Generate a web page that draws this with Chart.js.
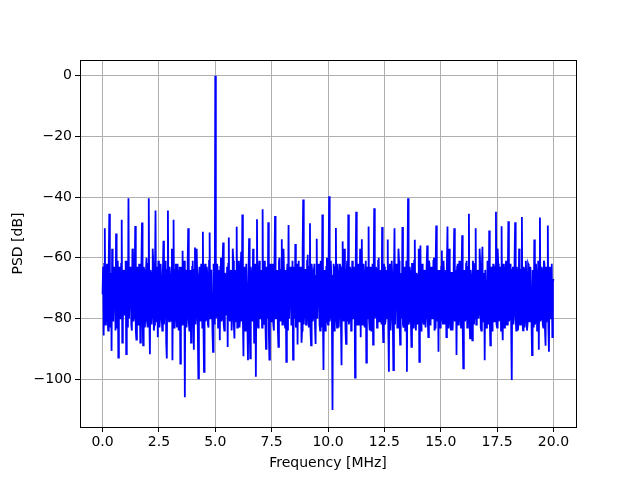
<!DOCTYPE html>
<html>
<head>
<meta charset="utf-8">
<script src="https://cdn.jsdelivr.net/npm/chart.js@4.4.1/dist/chart.umd.min.js"></script>
<style>
	html, body { margin: 0; padding: 0; background: #fff; }
	#psdChart { display: block; }
</style>
</head>
<body>
<canvas id="psdChart" width="640" height="480"></canvas>
<script>
// frequency axis: bins every 0.025 MHz from 0 to 20 MHz
var freqStart = 0;
var freqStep = 0.05;

// PSD values [dB] on the whole bins (0, 0.05, 0.10 ... 20 MHz)
var psdValues = [
	-72, -85.6, -50.3, -80, -62, -84, -45.5, -78, -90.7, -64,
	-81, -66, -52, -83, -92.9, -63, -79, -47.5, -82, -65,
	-78, -91.8, -61, -40.4, -80, -67, -84, -58, -79, -49.5,
	-87, -63, -81, -66, -77, -48.4, -88.9, -64, -80, -60,
	-83, -40.4, -91.8, -65, -78, -62, -82, -44.4, -79, -86.2,
	-63, -80, -67, -84, -54.4, -77, -64, -93.2, -44.4, -81,
	-66, -79, -93.8, -47.5, -80, -62, -83, -65, -78, -94.9,
	-63, -57.7, -82, -106, -66, -79, -50.3, -84, -64, -80,
	-61, -90.3, -56.6, -78, -67, -99.8, -63, -81, -65, -51.4,
	-97.6, -62, -80, -66, -83, -51.7, -77, -64, -91, -68,
	0, -79, -63, -82, -87.2, -60, -80, -55, -84, -66,
	-78, -89.4, -53.3, -81, -64, -79, -61, -86.6, -67, -49.8,
	-82, -63, -80, -58, -45.7, -92.5, -65, -79, -62, -93.8,
	-53.6, -93.2, -66, -81, -64, -78, -99.2, -47.3, -83, -61,
	-80, -67, -44, -82, -63, -90, -65, -48.3, -93.6, -62,
	-79, -66, -84, -46.2, -80, -64, -89.4, -60, -81, -53.9,
	-78, -65, -83, -94.3, -62, -49.2, -80, -67, -79, -93.6,
	-63, -55.5, -82, -88.6, -61, -80, -66, -84, -40.8, -78,
	-64, -81, -59, -83, -48.6, -88.9, -65, -79, -62, -88.4,
	-53.7, -80, -66, -84, -63, -45.7, -97, -64, -81, -60,
	-82, -39.7, -79, -67, -110.2, -62, -80, -50.2, -83, -65,
	-78, -63, -95.4, -54.6, -81, -66, -88.4, -61, -45.7, -80,
	-64, -83, -67, -78, -99.5, -44.8, -82, -62, -79, -86.2,
	-53.9, -81, -65, -77, -94.6, -63, -49.7, -84, -66, -80,
	-88.6, -43.7, -79, -64, -82, -60, -80, -67, -49.9, -87.8,
	-63, -81, -65, -54, -97.6, -62, -79, -66, -97, -50.3,
	-82, -64, -78, -61, -88.6, -67, -49.9, -83, -63, -80,
	-97.6, -40.4, -81, -65, -89.4, -62, -79, -54.1, -84, -66,
	-78, -94.3, -56, -80, -63, -82, -65, -79, -56, -86.2,
	-62, -81, -67, -78, -60, -83, -49.4, -80, -91, -64,
	-79, -57.6, -82, -66, -77, -86.2, -49.7, -81, -63, -84,
	-65, -79, -50.3, -80, -92.1, -62, -78, -67, -83, -52.6,
	-96.5, -64, -80, -61, -82, -45.5, -86.6, -66, -87.2, -63,
	-79, -50.3, -81, -65, -78, -62, -84, -56.4, -80, -93.8,
	-64, -79, -67, -51, -88.9, -63, -82, -66, -78, -44.8,
	-83, -62, -80, -65, -49.6, -87.2, -64, -79, -61, -82,
	-48, -80, -66, -100.3, -63, -78, -48.3, -84, -65, -81,
	-62, -79, -46.6, -83.9, -64, -80, -67, -82, -62.6, -78,
	-63, -92.1, -65, -54, -81, -66, -79, -90.3, -46.7, -80,
	-64, -83, -62, -89, -65, -49.4, -91, -63, -80, -86.2,
	-67
];

// PSD values [dB] on the half bins (0.025, 0.075 ... 19.975 MHz): the dense noise floor
var psdHalfValues = [
	-63, -62, -82, -64, -80, -61, -83, -65, -57, -81,
	-63, -84, -79, -61, -66, -80, -62, -88, -64, -79,
	-61, -65, -83, -80, -63, -82, -57, -81, -66, -84,
	-64, -82, -62, -88, -61, -80, -63, -83, -65, -81,
	-62, -79, -64, -82, -57, -84, -66, -81, -63, -61,
	-83, -62, -80, -65, -82, -61, -88, -64, -79, -63,
	-81, -57, -66, -83, -64, -80, -62, -84, -63, -65,
	-82, -80, -61, -64, -83, -62, -81, -65, -88, -63,
	-80, -64, -82, -57, -84, -66, -79, -62, -83, -81,
	-65, -81, -63, -82, -61, -80, -64, -84, -62, -82,
	-80, -62, -83, -64, -63, -81, -61, -82, -65, -79,
	-63, -62, -80, -65, -84, -57, -82, -64, -81, -83,
	-61, -83, -64, -81, -80, -63, -84, -62, -82, -65,
	-81, -63, -80, -57, -88, -62, -64, -82, -66, -80,
	-64, -83, -81, -61, -82, -63, -80, -84, -65, -81,
	-62, -82, -63, -80, -65, -83, -61, -79, -64, -82,
	-57, -81, -64, -66, -84, -80, -63, -82, -61, -65,
	-80, -83, -62, -64, -81, -63, -88, -57, -82, -64,
	-82, -61, -80, -63, -84, -62, -81, -64, -83, -66,
	-80, -62, -82, -61, -83, -79, -65, -84, -63, -81,
	-64, -81, -61, -82, -66, -84, -63, -80, -62, -83,
	-62, -82, -64, -80, -57, -83, -65, -81, -82, -63,
	-84, -61, -80, -63, -66, -81, -64, -82, -57, -65,
	-82, -62, -83, -61, -64, -80, -81, -63, -84, -62,
	-65, -80, -63, -83, -61, -81, -64, -82, -80, -62,
	-82, -64, -80, -83, -63, -84, -61, -81, -65, -82,
	-62, -83, -57, -81, -65, -80, -82, -64, -84, -61,
	-64, -82, -63, -80, -62, -83, -61, -81, -65, -82,
	-57, -66, -84, -62, -81, -64, -83, -63, -80, -61,
	-82, -63, -80, -61, -84, -62, -81, -64, -65, -83,
	-63, -80, -61, -82, -64, -62, -83, -57, -81, -65,
	-84, -62, -81, -64, -63, -82, -61, -80, -65, -83,
	-66, -81, -62, -83, -63, -80, -64, -84, -61, -82,
	-62, -82, -64, -80, -57, -83, -63, -81, -65, -64,
	-83, -61, -82, -80, -64, -84, -62, -81, -63, -82,
	-57, -81, -63, -84, -80, -62, -83, -64, -82, -65,
	-81, -62, -83, -64, -82, -61, -80, -63, -84, -57,
	-82, -64, -81, -63, -83, -61, -84, -62, -81, -63,
	-80, -64, -83, -82, -62, -84, -61, -65, -81, -63,
	-82, -61, -84, -63, -81, -83, -64, -80, -62, -68
];

var xTicks = [0, 2.5, 5, 7.5, 10, 12.5, 15, 17.5, 20];
var yTicks = [-100, -80, -60, -40, -20, 0];

var xMin = -1;
var xMax = 21;
var yMin = -115.8;
var yMax = 5.2;

var _psdChart;

/********************************************************
 * PSD graph
 ********************************************************/
function getPsdChartData() {
	var _points = new Array();

	psdValues.forEach(function(v, i) {
		var f = freqStart + i * freqStep;
		_points.push({ x: f, y: v });
		if (i < psdHalfValues.length) {
			_points.push({ x: f + freqStep / 2, y: psdHalfValues[i] });
		}
	});

	var data = {
		datasets: [
			{
				data: _points,
				borderColor: '#0000ff',
				borderWidth: 1.8,
				pointRadius: 0,
				tension: 0,
				fill: false
			}
		]
	};

	return data;
}

// black frame round the plot area (top and right spines too)
var frameBox = {
	id: 'frameBox',
	afterDraw: function(chart) {
		var a = chart.chartArea;
		var ctx = chart.ctx;
		ctx.save();
		ctx.strokeStyle = '#000';
		ctx.lineWidth = 1;
		ctx.strokeRect(Math.round(a.left) + 0.5, Math.round(a.top) + 0.5, Math.round(a.right - a.left), Math.round(a.bottom - a.top));
		ctx.restore();
	}
};

function minusSign(v) {
	return String(v).replace('-', '\u2212');
}

function getPsdChartOption() {
	var font = { family: 'DejaVu Sans', size: 14 };

	var options = {
		type: 'line',
		data: getPsdChartData(),
		plugins: [frameBox],
		options: {
			responsive: false,
			animation: false,
			layout: {
				padding: { left: 0, top: 60, right: 64, bottom: 0 }
			},
			plugins: {
				legend: { display: false },
				tooltip: { enabled: false },
				title: { display: false }
			},
			scales: {
				x: {
					type: 'linear',
					min: xMin,
					max: xMax,
					afterFit: function(scale) { scale.height = 53; },
					afterBuildTicks: function(scale) {
						scale.ticks = xTicks.map(function(v) { return { value: v }; });
					},
					ticks: {
						color: '#000',
						font: font,
						padding: 2,
						maxRotation: 0,
						callback: function(v) { return v.toFixed(1); }
					},
					grid: {
						color: '#b0b0b0',
						lineWidth: 1,
						tickColor: '#000',
						tickLength: 5
					},
					border: { display: false },
					title: {
						display: true,
						text: 'Frequency [MHz]',
						color: '#000',
						font: font,
						padding: { top: 2, bottom: 8 }
					}
				},
				y: {
					type: 'linear',
					min: yMin,
					max: yMax,
					afterFit: function(scale) { scale.width = 80; },
					afterBuildTicks: function(scale) {
						scale.ticks = yTicks.map(function(v) { return { value: v }; });
					},
					ticks: {
						color: '#000',
						font: font,
						padding: 3,
						callback: function(v) { return minusSign(v); }
					},
					grid: {
						color: '#b0b0b0',
						lineWidth: 1,
						tickColor: '#000',
						tickLength: 5
					},
					border: { display: false },
					title: {
						display: true,
						text: 'PSD [dB]',
						color: '#000',
						font: font,
						padding: { top: 10, bottom: 0 }
					}
				}
			}
		}
	};

	return options;
}

function renderPsdChart() {
	var ctx = document.getElementById('psdChart');

	if (Chart.getChart('psdChart')) {
		_psdChart.destroy();
	}

	_psdChart = new Chart(ctx, getPsdChartOption());
}

renderPsdChart();
</script>
</body>
</html>
